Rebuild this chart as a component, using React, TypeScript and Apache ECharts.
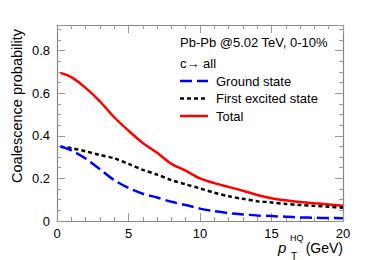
import React, { useEffect, useRef } from "react";
import * as echarts from "echarts";

const ptValues = [0.25, 1, 2, 3, 4, 5, 6, 7, 8, 9, 10, 11, 12, 13, 14, 15, 16, 17, 18, 19, 20];
const groundState = [0.35, 0.332, 0.293, 0.243, 0.192, 0.155, 0.128, 0.11, 0.09, 0.075, 0.058, 0.046, 0.037, 0.031, 0.026, 0.023, 0.02, 0.017, 0.015, 0.014, 0.013];
const firstExcited = [0.348, 0.342, 0.327, 0.31, 0.294, 0.268, 0.24, 0.218, 0.192, 0.172, 0.153, 0.133, 0.116, 0.104, 0.093, 0.087, 0.08, 0.075, 0.071, 0.067, 0.062];
const total = [0.695, 0.675, 0.625, 0.562, 0.487, 0.424, 0.366, 0.32, 0.268, 0.236, 0.2, 0.178, 0.16, 0.142, 0.122, 0.107, 0.097, 0.089, 0.083, 0.078, 0.072];
const seriesNames = ["Ground state", "First excited state", "Total"];
const xTicks = [0, 5, 10, 15, 20];
const yTicks = [0, 0.2, 0.4, 0.6, 0.8];

const FONT = "Liberation Sans";
const frame = "#8a8585";
const tickC = "#9a9a9a";

export default function App() {
  const ref = useRef<HTMLDivElement>(null);
  useEffect(() => {
    if (!ref.current) return;
    const chart = echarts.init(ref.current, null, { renderer: "svg" });
    const pair = (ys: number[]) => ptValues.map((x, i) => [x, ys[i]]);
    const styles = [
      { color: "#0000ff", type: [12, 5] as any },
      { color: "#000000", type: [4, 3] as any },
      { color: "#ff0000", type: "solid" as any },
    ];
    const data = [groundState, firstExcited, total];
    const axisCommon = {
      axisLine: { show: true, onZero: false, lineStyle: { color: frame, width: 1.2 } },
      splitLine: { show: false },
      minorSplitLine: { show: false },
    };
    const txt = (x: number, y: number, text: string, size: number, extra: any = {}) => ({
      type: "text", x, y, ...extra,
      style: { text, fontSize: size, fontFamily: FONT, fill: "#000", verticalAlign: "middle", align: "left", ...(extra.style || {}) },
    });
    const legendY = [81, 98.5, 116];
    const graphic: any[] = [
      txt(180, 42, "Pb-Pb @5.02 TeV, 0-10%", 13),
      txt(180, 63, "c\u2192 all", 13),
      { type: "text", x: 17, y: 29, rotation: Math.PI / 2, style: { text: "Coalescence probability", fontSize: 14.5, fontFamily: FONT, fill: "#000", align: "right", verticalAlign: "middle" } },
      { type: "text", x: 278, y: 247, style: { text: "p", fontSize: 15, fontStyle: "italic", fontFamily: FONT, fill: "#000", verticalAlign: "middle" } },
      txt(290, 238, "HQ", 9),
      txt(291, 256, "T", 10),
      { type: "text", x: 343, y: 248, style: { text: "(GeV)", fontSize: 14, fontFamily: FONT, fill: "#000", align: "right", verticalAlign: "middle" } },
    ];
    seriesNames.forEach((n, i) => {
      graphic.push({ type: "line", shape: { x1: 180, y1: legendY[i], x2: 208, y2: legendY[i] }, style: { stroke: styles[i].color, lineWidth: 2.5, lineDash: Array.isArray(styles[i].type) ? styles[i].type : null } });
      graphic.push(txt(216, legendY[i], n, 13));
    });
    const tickCfg = {
      axisTick: { show: true, inside: true, length: 8, lineStyle: { color: tickC } },
    };
    chart.setOption({
      animation: false,
      grid: { left: 57, right: 39, top: 25, bottom: 39 },
      xAxis: [
        {
          type: "value", min: 0, max: 20, interval: 5, position: "bottom",
          ...axisCommon, ...tickCfg,
          minorTick: { show: true, splitNumber: 5, length: 4, lineStyle: { color: tickC } },
          axisLabel: { show: true, margin: 6, fontFamily: FONT, fontSize: 13, color: "#000", formatter: (v: number) => (xTicks.includes(v) ? String(v) : "") },
        },
        {
          type: "value", min: 0, max: 20, interval: 5, position: "top",
          ...axisCommon, ...tickCfg,
          minorTick: { show: true, splitNumber: 5, length: 4, lineStyle: { color: tickC } },
          axisLabel: { show: false },
        },
      ],
      yAxis: [
        {
          type: "value", min: 0, max: 0.92, interval: 0.2, position: "left",
          ...axisCommon, ...tickCfg,
          minorTick: { show: true, splitNumber: 4, length: 4, lineStyle: { color: tickC } },
          axisLabel: {
            show: true, margin: 7, fontFamily: FONT, fontSize: 13, color: "#000",
            formatter: (v: number) => {
              const t = yTicks.find((k) => Math.abs(k - v) < 1e-6);
              return t === undefined ? "" : String(t);
            },
          },
        },
        {
          type: "value", min: 0, max: 0.92, interval: 0.2, position: "right",
          ...axisCommon, ...tickCfg,
          minorTick: { show: true, splitNumber: 4, length: 4, lineStyle: { color: tickC } },
          axisLabel: { show: false },
        },
      ],
      series: seriesNames.map((n, i) => ({
        name: n,
        type: "line",
        data: pair(data[i]),
        smooth: 0.3,
        showSymbol: false,
        symbol: "none",
        lineStyle: { color: styles[i].color, width: 2.5, type: styles[i].type },
        z: 3 - i,
      })),
      graphic,
    });
    return () => chart.dispose();
  }, []);
  return <div ref={ref} style={{ position: "fixed", left: 0, top: 0, width: 382, height: 260, background: "#fff" }} />;
}
